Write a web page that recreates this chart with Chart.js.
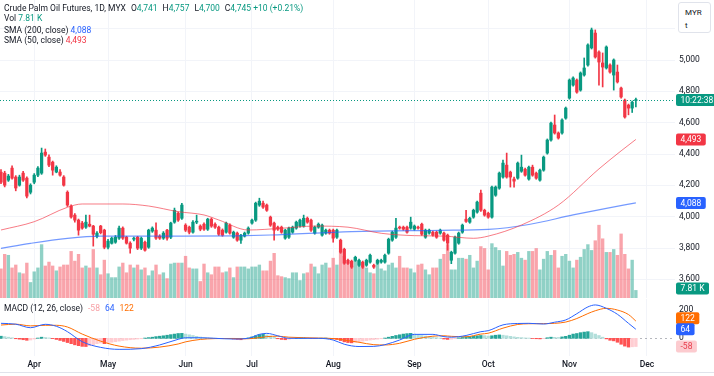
<!DOCTYPE html>
<html><head><meta charset="utf-8">
<script src="https://cdn.jsdelivr.net/npm/chart.js@4.4.1/dist/chart.umd.min.js"></script>
<style>
body{margin:0;background:#fff;overflow:hidden;}
#wrap{position:relative;width:714px;height:376px;font-family:Roboto,"DejaVu Sans",sans-serif;}
canvas{position:absolute;left:0;}
.lg{position:absolute;left:4px;font-size:8.5px;line-height:11px;color:#131722;white-space:nowrap;}
.g{color:#089981}.b{color:#2962FF}.r{color:#F23645}.o{color:#FF6D00}.p{color:#f7a1a6}
.sp{display:inline-block;width:5px}
#myr{position:absolute;left:678px;top:2px;width:33px;height:31px;background:#fff;border:1px solid #e0e3eb;border-radius:3px;font-size:8px;color:#131722;box-sizing:border-box;padding:3px 0 0 6px;line-height:13px;}
#bline{position:absolute;left:0;top:372px;width:714px;height:1px;background:#e0e3eb;}
</style></head>
<body><div id="wrap">
<canvas id="c1" width="714" height="298" style="top:0"></canvas>
<canvas id="c2" width="714" height="77" style="top:299px"></canvas>
<div class="lg" style="top:3px">Crude Palm Oil Futures, 1D, MYX<span class="sp"></span>O<span class="g">4,741</span><span class="sp"></span>H<span class="g">4,757</span><span class="sp"></span>L<span class="g">4,700</span><span class="sp"></span>C<span class="g">4,745</span> <span class="g">+10 (+0.21%)</span></div>
<div class="lg" style="top:13px">Vol <span class="g">7.81 K</span></div>
<div class="lg" style="top:25px">SMA (200, close) <span class="b">4,088</span></div>
<div class="lg" style="top:35px">SMA (50, close) <span class="r">4,493</span></div>
<div class="lg" style="top:303px">MACD (12, 26, close)<span class="sp"></span><span class="p">-58</span><span class="sp"></span><span class="b">64</span><span class="sp"></span><span class="o">122</span></div>
<div id="myr">MYR<br>t</div>
<div id="bline"></div>
</div>
<script>
// ---------- data ----------
const opens=[4284,4278,4233,4310,4253,4201,4278,4246,4156,4220,
4265,4278,4412,4380,4348,4285,4285,4253,4156,4068,
4010,3978,3959,3933,3952,3940,3875,3940,3914,3805,
3830,3837,3863,3927,3869,3831,3856,3869,3799,3837,
3805,3908,3914,3876,3863,3914,3869,3965,4022,3990,
3946,3933,3901,3965,3940,3952,3920,3984,3952,3933,
3914,3901,3946,3869,3895,3850,3876,3895,3959,3978,
4074,4086,4074,3997,3959,3933,3933,3863,3869,3901,
3927,3940,3940,3990,3978,3895,3933,3882,3895,3914,
3914,3869,3850,3792,3722,3716,3722,3690,3710,3690,
3710,3690,3703,3710,3710,3767,3850,3869,3933,3933,
3933,3927,3920,3933,3952,3869,3895,3901,3901,3895,
3895,3882,3722,3767,3831,3901,3984,3965,3997,4029,
4150,4041,4022,3997,4137,4182,4253,4329,4284,4240,
4246,4290,4303,4240,4316,4278,4233,4297,4406,4489,
4585,4534,4534,4629,4757,4840,4872,4808,4904,4968,
5077,5172,5051,4981,4949,4968,4904,4923,4821,4744,
4712,4693,4741];
const highs=[4300,4290,4270,4325,4262,4265,4290,4255,4210,4275,
4320,4438,4432,4395,4355,4325,4300,4262,4165,4075,
4020,3985,3970,4010,4010,3945,3905,3945,3920,3855,
3870,3880,3940,3935,3875,3840,3870,3875,3870,3845,
3920,3935,3960,3885,3905,3920,3965,4055,4030,4086,
3955,3940,3975,4010,3948,3960,3990,3992,3960,3940,
3922,3966,3955,3908,3902,3888,3902,3935,3985,4093,
4118,4100,4081,4004,3966,3940,3940,3920,3934,3940,
3972,3985,4010,3998,3985,3940,3960,3953,3921,3921,
3921,3921,3857,3799,3729,3723,3748,3729,3717,3729,
3761,3697,3729,3729,3761,3863,3908,3990,3940,3940,
3940,3997,3947,3940,3959,3921,3921,3908,3908,3921,
3902,3889,3780,3876,3902,3953,4041,3997,4048,4100,
4170,4048,4029,4196,4196,4285,4361,4406,4291,4253,
4349,4393,4310,4323,4329,4285,4304,4387,4496,4604,
4649,4541,4624,4700,4879,4892,4879,4924,5013,5103,
5204,5192,5058,5045,5090,4975,5007,4968,4828,4751,
4719,4738,4757];
const lows=[4210,4190,4225,4240,4165,4195,4225,4120,4145,4210,
4255,4270,4385,4320,4265,4280,4258,4195,4065,3990,
3965,3882,3920,3925,3935,3812,3865,3890,3795,3795,
3825,3830,3855,3855,3825,3767,3845,3790,3790,3780,
3798,3900,3855,3855,3855,3850,3860,3958,3970,3982,
3905,3890,3895,3955,3910,3912,3912,3932,3925,3880,
3875,3895,3888,3862,3843,3830,3870,3888,3952,3970,
4066,4053,4034,3938,3850,3912,3894,3856,3862,3894,
3920,3933,3933,3958,3906,3888,3926,3875,3888,3888,
3837,3862,3766,3696,3696,3670,3715,3683,3670,3683,
3703,3670,3696,3703,3703,3760,3843,3862,3920,3913,
3894,3920,3913,3920,3881,3862,3888,3875,3862,3888,
3843,3786,3700,3760,3824,3894,3963,3958,3990,4022,
4034,4003,3990,3990,4130,4175,4246,4246,4189,4189,
4239,4283,4258,4233,4258,4239,4226,4290,4399,4482,
4527,4495,4527,4622,4750,4833,4788,4801,4897,4961,
5070,5012,4840,4828,4942,4916,4808,4853,4757,4629,
4650,4665,4700];
const closes=[4220,4201,4259,4246,4183,4253,4233,4131,4201,4265,
4310,4406,4393,4329,4297,4316,4265,4201,4074,3998,
3978,3914,3927,3965,3940,3888,3895,3898,3805,3844,
3863,3869,3927,3863,3831,3799,3863,3799,3863,3786,
3914,3927,3863,3863,3895,3863,3959,4041,3978,4074,
3914,3901,3965,3970,3920,3920,3984,3940,3933,3888,
3882,3959,3895,3901,3850,3882,3895,3927,3978,4086,
4099,4061,4041,3946,3914,3920,3901,3914,3927,3933,
3965,3978,3990,3965,3914,3933,3952,3946,3914,3895,
3863,3914,3773,3703,3703,3678,3741,3722,3678,3722,
3754,3678,3722,3722,3754,3856,3901,3927,3927,3920,
3901,3965,3940,3927,3888,3914,3914,3882,3869,3914,
3850,3831,3773,3869,3895,3946,3970,3990,4041,4093,
4041,4010,3997,4189,4189,4278,4342,4253,4253,4227,
4342,4316,4265,4316,4265,4246,4297,4380,4489,4597,
4534,4502,4617,4693,4872,4885,4795,4917,4949,5096,
5192,5019,4987,4955,5083,4923,5000,4860,4764,4636,
4693,4731,4745];
const volumesK=[30,45,44,31,34,26,25,36,16,27,
31,55,33,37,33,28,32,34,34,48,
38,45,31,33,31,50,31,24,39,25,
21,21,32,36,26,34,31,34,29,31,
23,28,34,24,26,20,35,36,36,
36,43,31,30,30,17,35,26,24,32,32,
26,27,31,21,32,32,32,30,32,32,
34,28,28,38,46,23,22,21,20,26,
26,18,25,26,35,32,25,34,36,31,41,34,
48,43,36,33,42,38,32,31,
26,25,38,30,28,34,36,31,43,31,
31,30,26,34,35,29,24,31,31,40,
45,55,29,29,41,41,40,44,31,38,
53,51,29,56,52,49,33,48,44,45,47,
41,39,48,48,51,29,40,48,44,49,
31,43,45,38,31,39,42,50,55,49,
59,75,61,47,47,50,44,66,45,30,39,7.81];
const macdHist=[15,12,8,4,
-3,-6,-10,-14,-12,
-5,2,8,6,
3,-2,
-8,-15,-22,-30,-38,-46,-52,-57,-58,
-52,-45,-38,-33,
-38,
-33,-28,-24,-20,-16,-13,-10,-8,-5,-3,
2,5,8,12,15,18,22,26,30,34,35,
30,25,20,14,9,5,
3,2,1,-1,-2,-1,0,
-5,-8,-10,-7,
3,10,18,26,28,
24,16,8,
-3,-8,-10,-7,
-3,0,2,3,2,-1,-2,0,1,2,1,
-4,-8,-16,-25,-30,-32,
-28,-24,-20,-16,-12,-9,-6,-3,
2,8,14,20,25,30,33,35,
30,25,20,16,12,8,5,2,
-5,-8,-6,-3,
3,6,10,12,
15,18,20,19,16,
18,22,24,22,
18,14,10,7,5,3,2,
-1,-3,-4,-2,
4,8,7,6,10,14,
22,30,34,40,44,47,
40,30,20,8,
-4,-14,
-18,-28,-42,-55,-62,
-60,-58];
// smooth lines read at sample candles: [candle index, value]
const sma200Pts=[[0,3798],[8,3830],[18,3862],[27,3876],[49,3876],[64,3878],[73,3883],[95,3905],[119,3913],[132,3919],[143,3950],[155,4011],[164,4053],[172,4088]];
const sma50Pts=[[0,3915],[9,3968],[18,4060],[22,4081],[33,4081],[40,4068],[48,4032],[55,4011],[59,3979],[67,3915],[76,3926],[85,3940],[94,3933],[103,3894],[112,3879],[120,3876],[128,3862],[132,3876],[141,3947],[151,4074],[162,4305],[168,4420],[172,4493]];
const macdPts=[[0,106],[4,100],[8,75],[12,99],[15,85],[18,47],[22,-24],[27,-64],[32,-78],[38,-73],[43,-47],[48,-7],[50,4],[54,4],[58,0],[63,-5],[67,0],[70,28],[72,35],[75,18],[78,0],[86,0],[90,-12],[93,-42],[97,-58],[101,-57],[104,-45],[108,-12],[112,28],[117,28],[120,12],[122,8],[126,20],[130,47],[132,54],[136,95],[140,105],[143,106],[147,101],[150,114],[153,130],[156,174],[159,222],[161,236],[164,212],[167,170],[170,106],[172,64]];
const signalPts=[[0,94],[4,100],[8,88],[12,92],[15,92],[18,80],[22,30],[27,-20],[32,-55],[38,-70],[43,-62],[48,-40],[50,-25],[54,-8],[58,-2],[63,-1],[67,-3],[70,5],[72,12],[75,15],[78,8],[86,2],[90,-2],[93,-12],[97,-28],[101,-45],[104,-47],[108,-35],[112,-7],[117,15],[120,18],[122,14],[126,11],[130,30],[132,36],[136,72],[140,98],[143,103],[147,104],[150,106],[153,115],[156,140],[159,175],[161,195],[164,212],[167,200],[170,168],[172,122]];
const monthIdx=[9,29,50,68,90,112,132,154,175];
const monthLabels=['Apr','May','Jun','Jul','Aug','Sep','Oct','Nov','Dec'];
const priceTicks=[3600,3800,4000,4200,4400,4600,4800,5000,5200];
const macdTicks=[0,200];
const countdownText='10:22:38';
const lastSma200=4088, lastSma50=4493, lastMacd=64, lastSignal=122, lastHist=-58;

// ---------- styling ----------
const FONT='Roboto, "DejaVu Sans", sans-serif';
const UP='#089981', DN='#F23645';
const GRID='#f2f4f9';
const X_MIN=-0.27, X_MAX=182.6;
Chart.defaults.font.family=FONT;
Chart.defaults.animation=false;

const n=closes.length;
const idx=[...Array(n).keys()];
const isUp=i=>closes[i]>=opens[i];
const pts=a=>a.map(p=>({x:p[0],y:p[1]}));
const noPad=s=>{s.paddingTop=0;s.paddingBottom=0;s.paddingLeft=0;s.paddingRight=0;};

function roundRect(ctx,x,y,w,h,r){ctx.beginPath();ctx.moveTo(x+r,y);ctx.lineTo(x+w-r,y);ctx.quadraticCurveTo(x+w,y,x+w,y+r);ctx.lineTo(x+w,y+h-r);ctx.quadraticCurveTo(x+w,y+h,x+w-r,y+h);ctx.lineTo(x+r,y+h);ctx.quadraticCurveTo(x,y+h,x,y+h-r);ctx.lineTo(x,y+r);ctx.quadraticCurveTo(x,y,x+r,y);ctx.closePath();}
function tag(ctx,y,text,bg,fg,minW){
  ctx.save();ctx.font='8.5px '+FONT;
  const w=Math.max(ctx.measureText(text).width+9,minW||0);
  const x=676,h=12;
  ctx.fillStyle=bg;roundRect(ctx,x,y-h/2,w,h,2);ctx.fill();
  ctx.fillStyle=fg;ctx.textAlign='left';ctx.textBaseline='middle';
  ctx.fillText(text,x+4.5,y+0.5);ctx.restore();
}

const xBase={type:'linear',min:X_MIN,max:X_MAX,offset:false,
  afterBuildTicks:s=>{s.ticks=monthIdx.map(v=>({value:v}));},
  grid:{color:GRID,drawTicks:false,offset:false},border:{display:false}};

const pricePlugin={id:'pricePlugin',
  afterDatasetsDraw(chart){
    const ctx=chart.ctx,a=chart.chartArea,y=chart.scales.y;
    const py=Math.round(y.getPixelForValue(closes[n-1]))+0.5;
    ctx.save();ctx.strokeStyle=UP;ctx.lineWidth=1;ctx.setLineDash([1,2]);
    ctx.beginPath();ctx.moveTo(a.left,py);ctx.lineTo(a.right,py);ctx.stroke();ctx.restore();
  },
  afterDraw(chart){
    const ctx=chart.ctx,y=chart.scales.y,yv=chart.scales.yv;
    tag(ctx,y.getPixelForValue(closes[n-1]),countdownText,UP,'#fff',37);
    tag(ctx,y.getPixelForValue(lastSma50),lastSma50.toLocaleString('en-US'),DN,'#fff');
    tag(ctx,y.getPixelForValue(lastSma200),lastSma200.toLocaleString('en-US'),'#2962FF','#fff');
    tag(ctx,Math.min(yv.getPixelForValue(volumesK[n-1]),288.5),volumesK[n-1]+' K',UP,'#fff');
  }};

new Chart(document.getElementById('c1'),{
  type:'bar',
  data:{datasets:[
    {type:'line',data:pts(sma50Pts),yAxisID:'y',borderColor:'rgba(242,54,69,0.65)',borderWidth:1,pointRadius:0,cubicInterpolationMode:'monotone',order:1},
    {type:'line',data:pts(sma200Pts),yAxisID:'y',borderColor:'rgba(41,98,255,0.65)',borderWidth:1.2,pointRadius:0,cubicInterpolationMode:'monotone',order:1},
    {data:idx.map(i=>({x:i,y:[opens[i],closes[i]]})),yAxisID:'y',grouped:false,barThickness:2.6,minBarLength:1,
      backgroundColor:idx.map(i=>isUp(i)?UP:DN),order:2},
    {data:idx.map(i=>({x:i,y:[lows[i],highs[i]]})),yAxisID:'y',grouped:false,barThickness:1,
      backgroundColor:idx.map(i=>isUp(i)?UP:DN),order:3},
    {data:idx.map(i=>({x:i,y:volumesK[i]})),yAxisID:'yv',grouped:false,barThickness:2.7,
      backgroundColor:idx.map(i=>isUp(i)?'rgba(8,153,129,0.45)':'rgba(242,54,69,0.45)'),order:5}
  ]},
  options:{responsive:false,devicePixelRatio:1,animation:false,
    layout:{padding:0},
    plugins:{legend:{display:false},tooltip:{enabled:false}},
    scales:{
      x:Object.assign({},xBase,{ticks:{display:false},afterFit:s=>{s.height=0;noPad(s);}}),
      y:{position:'right',min:3481,max:5383,
        afterBuildTicks:s=>{s.ticks=priceTicks.map(v=>({value:v}));},
        ticks:{callback:v=>v.toLocaleString('en-US'),color:'#131722',font:{size:8.5},padding:4},
        grid:{color:GRID,drawTicks:false},border:{display:false},
        afterFit:s=>{s.width=39;noPad(s);}},
      yv:{display:false,min:0,max:307}
    }},
  plugins:[pricePlugin]
});

const histColors=macdHist.map((h,i)=>{const p=i>0?macdHist[i-1]:h;
  if(h>=0) return h>=p?'#26a69a':'#b2dfdb'; return h<p?'#ff5252':'#ffcdd2';});

const macdPlugin={id:'macdPlugin',
  beforeDatasetsDraw(chart){
    const ctx=chart.ctx,a=chart.chartArea,y=chart.scales.y;
    const py=Math.round(y.getPixelForValue(0))+0.5;
    ctx.save();ctx.strokeStyle='rgba(120,123,134,0.55)';ctx.lineWidth=1;ctx.setLineDash([2,3]);
    ctx.beginPath();ctx.moveTo(a.left,py);ctx.lineTo(a.right,py);ctx.stroke();ctx.restore();
  },
  afterDraw(chart){
    const ctx=chart.ctx,y=chart.scales.y;
    let ys=y.getPixelForValue(lastSignal), ym=y.getPixelForValue(lastMacd), yh=y.getPixelForValue(lastHist);
    if(ym-ys<11) ys=ym-11;
    tag(ctx,ys,String(lastSignal),'#FF6D00','#fff');
    tag(ctx,ym,String(lastMacd),'#2962FF','#fff');
    tag(ctx,Math.min(yh,chart.chartArea.bottom-7),String(lastHist),'#fccbcf','#e8404f');
  }};

new Chart(document.getElementById('c2'),{
  type:'bar',
  data:{datasets:[
    {type:'line',data:pts(macdPts),borderColor:'#2962FF',borderWidth:1,pointRadius:0,cubicInterpolationMode:'monotone',order:1},
    {type:'line',data:pts(signalPts),borderColor:'#FF6D00',borderWidth:1,pointRadius:0,cubicInterpolationMode:'monotone',order:1},
    {data:idx.map(i=>({x:i,y:macdHist[i]})),grouped:false,barThickness:2.7,backgroundColor:histColors,order:3}
  ]},
  options:{responsive:false,devicePixelRatio:1,animation:false,
    layout:{padding:0},
    plugins:{legend:{display:false},tooltip:{enabled:false}},
    scales:{
      x:Object.assign({},xBase,{
        ticks:{autoSkip:false,maxRotation:0,padding:4,color:'#131722',font:{size:8.5,weight:'500'},
          callback:v=>{const k=monthIdx.indexOf(v);return k>=0?monthLabels[k]:'';}},
        afterFit:s=>{s.height=20;noPad(s);}}),
      y:{position:'right',min:-125,max:278,
        afterBuildTicks:s=>{s.ticks=macdTicks.map(v=>({value:v}));},
        ticks:{color:'#131722',font:{size:8.5},padding:4},
        grid:{display:false,drawTicks:false},border:{display:false},
        afterFit:s=>{s.width=39;noPad(s);}}
    }},
  plugins:[macdPlugin]
});
</script>
</body></html>
